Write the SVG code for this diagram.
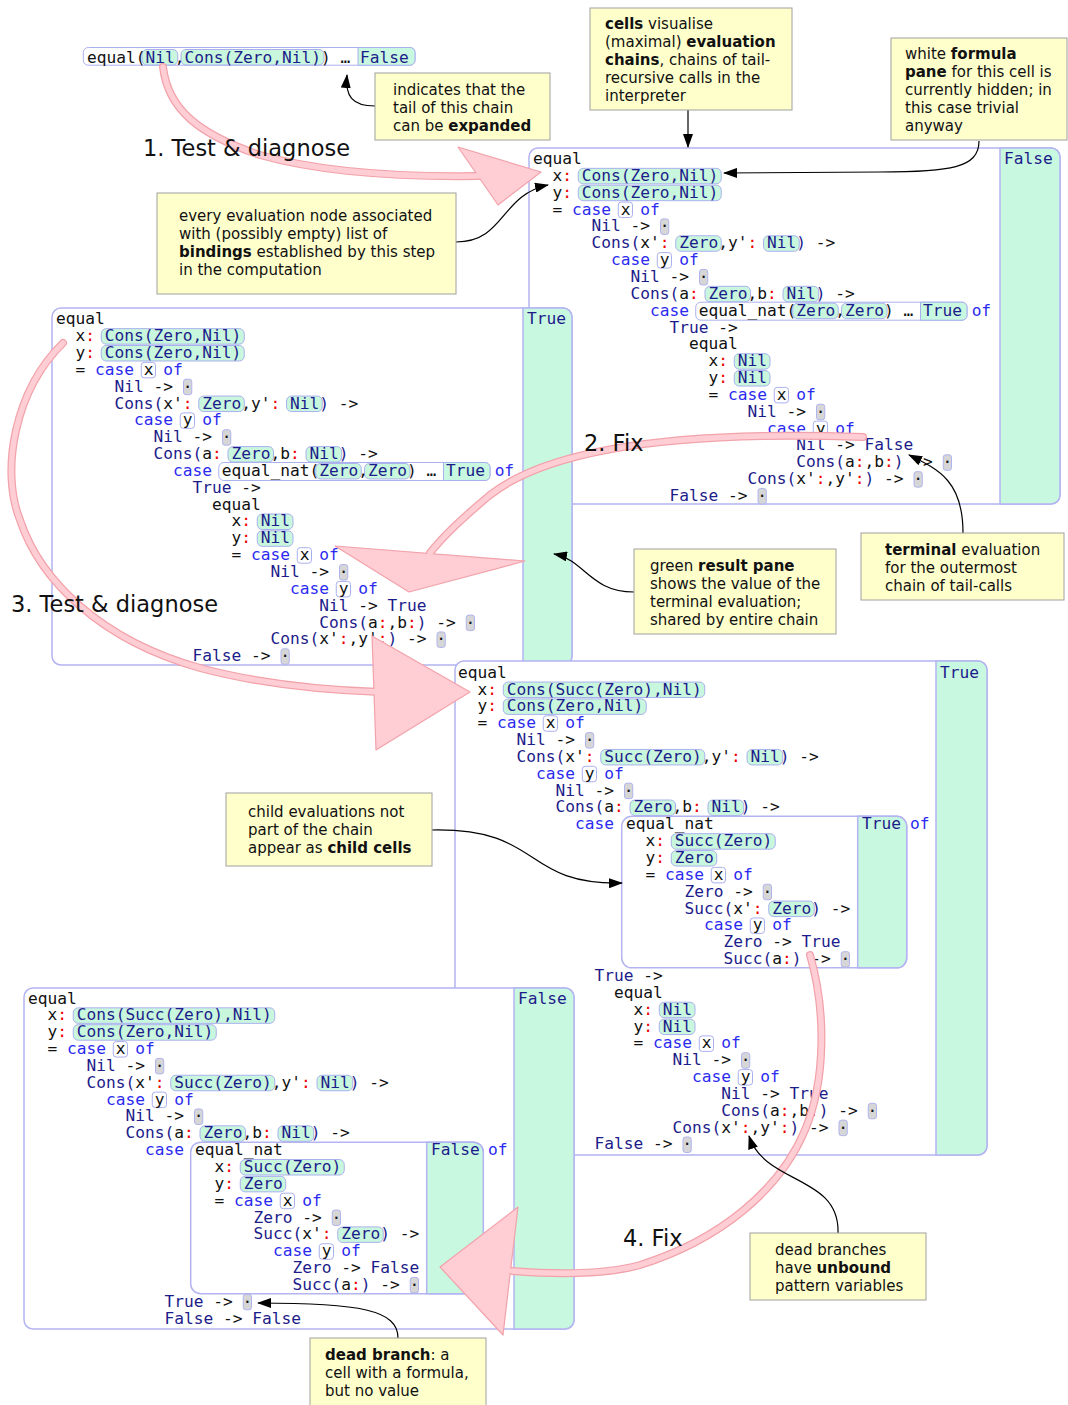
<svg xmlns="http://www.w3.org/2000/svg" width="1068" height="1405" viewBox="0 0 1068 1405">
<style>
.m{font-family:"DejaVu Sans Mono",monospace;font-size:16.2px;fill:#111;white-space:pre}
.k{fill:#2b2bf0}
.c{fill:#1c1c8a}
.r{fill:#ee0000}
.p{fill:#c8f7dd;stroke:#aab0ee;stroke-width:1}
.v{fill:#fff;stroke:#aab0ee;stroke-width:1}
.d{fill:#d6d6d6;stroke:#b0b4ee;stroke-width:1}
.fr{fill:#fff;stroke:#b4b4f2;stroke-width:1.5}
.pane{fill:#c8f8e0;stroke:#b4b4f2;stroke-width:1.5}
.pane1{fill:#c8f8e0;stroke:#aab0ee;stroke-width:1}
.note{fill:#ffffcc;stroke:#a0a0a0;stroke-width:1}
.nt{font-family:"DejaVu Sans",Verdana,sans-serif;font-size:15px;fill:#111;white-space:pre}
.b{font-weight:bold}
.big{font-family:"DejaVu Sans",Verdana,sans-serif;font-size:22.5px;fill:#111;white-space:pre}
.con{fill:none;stroke:#000;stroke-width:1.2;marker-end:url(#ah)}
.band1{fill:none;stroke:#f2a2aa;stroke-width:8;stroke-linecap:round}
.band2{fill:none;stroke:#ffcdd4;stroke-width:5.5;stroke-linecap:round}
.head{fill:#ffcdd4;stroke:#f2a2aa;stroke-width:1.2;stroke-linejoin:round}
</style>
<defs>
<marker id="ah" markerWidth="14" markerHeight="10" refX="13" refY="5" orient="auto" markerUnits="userSpaceOnUse" viewBox="0 0 14 10"><path d="M0,0 L14,5 L0,10 Z" fill="#000"/></marker>
</defs>

<!-- top-left collapsed cell -->
<g id="cell-collapsed-top">
<g transform="translate(87,62.5)">
<rect class="v" x="-3.7" y="-15" width="331.7" height="17.7" rx="5"/>
<path class="pane1" d="M271,-15 H323 A5,5 0 0 1 328,-10 V-2.3 A5,5 0 0 1 323,2.7 H271 Z"/>
<rect class="p" x="55" y="-13" width="35.75" height="15.5" rx="5"/>
<rect class="p" x="94" y="-13" width="143" height="15.5" rx="5"/>
<text class="m" x="0" y="0">equal(<tspan class="c">Nil</tspan>,<tspan class="c">Cons(Zero,Nil)</tspan>) … <tspan class="c">False</tspan></text>
</g>
</g>

<!-- cell A (top right) -->
<g id="cell-A">
<rect class="fr" x="529" y="148" width="531" height="356" rx="9"/>
<path class="pane" d="M1000,148 H1051 A9,9 0 0 1 1060,157 V495 A9,9 0 0 1 1051,504 H1000 Z"/>
<text class="m c" x="1004" y="164">False</text>
<g transform="translate(533,164)">
<rect class="p" x="45.25" y="4.35" width="143" height="15.5" rx="5"/>
<rect class="p" x="45.25" y="21.2" width="143" height="15.5" rx="5"/>
<rect class="v" x="85.25" y="38.05" width="14.25" height="15.5" rx="3"/>
<rect class="d" x="127.5" y="54.9" width="8.25" height="15.5" rx="2.5"/>
<rect class="p" x="142.75" y="71.75" width="45.5" height="15.5" rx="5"/>
<rect class="p" x="230.5" y="71.75" width="35.75" height="15.5" rx="5"/>
<rect class="v" x="124.25" y="88.6" width="14.25" height="15.5" rx="3"/>
<rect class="d" x="166.5" y="105.45" width="8.25" height="15.5" rx="2.5"/>
<rect class="p" x="172" y="122.3" width="45.5" height="15.5" rx="5"/>
<rect class="p" x="250" y="122.3" width="35.75" height="15.5" rx="5"/>
<rect class="v" x="162.75" y="138.2" width="271.25" height="18" rx="5"/>
<path class="pane1" d="M387.5,138.2 H429 A5,5 0 0 1 434,143.2 V151.2 A5,5 0 0 1 429,156.2 H387.5 Z"/>
<rect class="p" x="259.75" y="139.15" width="45.5" height="15.5" rx="5"/>
<rect class="p" x="308.5" y="139.15" width="45.5" height="15.5" rx="5"/>
<rect class="p" x="201.25" y="189.7" width="35.75" height="15.5" rx="5"/>
<rect class="p" x="201.25" y="206.55" width="35.75" height="15.5" rx="5"/>
<rect class="v" x="241.25" y="223.4" width="14.25" height="15.5" rx="3"/>
<rect class="d" x="283.5" y="240.25" width="8.25" height="15.5" rx="2.5"/>
<rect class="v" x="280.25" y="257.1" width="14.25" height="15.5" rx="3"/>
<rect class="d" x="410.25" y="290.8" width="8.25" height="15.5" rx="2.5"/>
<rect class="d" x="381" y="307.65" width="8.25" height="15.5" rx="2.5"/>
<rect class="d" x="225" y="324.5" width="8.25" height="15.5" rx="2.5"/>
<text class="m" x="0" y="0">equal</text>
<text class="m" x="19.5" y="16.85">x<tspan class="r">:</tspan> <tspan class="c">Cons(Zero,Nil)</tspan></text>
<text class="m" x="19.5" y="33.7">y<tspan class="r">:</tspan> <tspan class="c">Cons(Zero,Nil)</tspan></text>
<text class="m" x="19.5" y="50.55">= <tspan class="k">case</tspan> x <tspan class="k">of</tspan></text>
<text class="m" x="58.5" y="67.4"><tspan class="c">Nil</tspan> -&gt; ·</text>
<text class="m" x="58.5" y="84.25"><tspan class="c">Cons(</tspan>x'<tspan class="r">:</tspan> <tspan class="c">Zero</tspan>,y'<tspan class="r">:</tspan> <tspan class="c">Nil)</tspan> -&gt;</text>
<text class="m" x="78" y="101.1"><tspan class="k">case</tspan> y <tspan class="k">of</tspan></text>
<text class="m" x="97.5" y="117.95"><tspan class="c">Nil</tspan> -&gt; ·</text>
<text class="m" x="97.5" y="134.8"><tspan class="c">Cons(</tspan>a<tspan class="r">:</tspan> <tspan class="c">Zero</tspan>,b<tspan class="r">:</tspan> <tspan class="c">Nil)</tspan> -&gt;</text>
<text class="m" x="117" y="151.65"><tspan class="k">case</tspan> equal_nat(<tspan class="c">Zero</tspan>,<tspan class="c">Zero</tspan>) … <tspan class="c">True</tspan> <tspan class="k">of</tspan></text>
<text class="m" x="136.5" y="168.5"><tspan class="c">True</tspan> -&gt;</text>
<text class="m" x="156" y="185.35">equal</text>
<text class="m" x="175.5" y="202.2">x<tspan class="r">:</tspan> <tspan class="c">Nil</tspan></text>
<text class="m" x="175.5" y="219.05">y<tspan class="r">:</tspan> <tspan class="c">Nil</tspan></text>
<text class="m" x="175.5" y="235.9">= <tspan class="k">case</tspan> x <tspan class="k">of</tspan></text>
<text class="m" x="214.5" y="252.75"><tspan class="c">Nil</tspan> -&gt; ·</text>
<text class="m" x="234" y="269.6"><tspan class="k">case</tspan> y <tspan class="k">of</tspan></text>
<text class="m" x="263.25" y="286.45"><tspan class="c">Nil</tspan> -&gt; <tspan class="c">False</tspan></text>
<text class="m" x="263.25" y="303.3"><tspan class="c">Cons(</tspan>a<tspan class="r">:</tspan>,b<tspan class="r">:</tspan><tspan class="c">)</tspan> -&gt; ·</text>
<text class="m" x="214.5" y="320.15"><tspan class="c">Cons(</tspan>x'<tspan class="r">:</tspan>,y'<tspan class="r">:</tspan><tspan class="c">)</tspan> -&gt; ·</text>
<text class="m" x="136.5" y="337"><tspan class="c">False</tspan> -&gt; ·</text>
</g>
</g>

<!-- cell B (middle left) -->
<g id="cell-B">
<rect class="fr" x="52" y="308" width="520" height="357" rx="9"/>
<path class="pane" d="M523,308 H563 A9,9 0 0 1 572,317 V656 A9,9 0 0 1 563,665 H523 Z"/>
<text class="m c" x="527" y="324.3">True</text>
<g transform="translate(56,324.3)">
<rect class="p" x="45.25" y="4.35" width="143" height="15.5" rx="5"/>
<rect class="p" x="45.25" y="21.2" width="143" height="15.5" rx="5"/>
<rect class="v" x="85.25" y="38.05" width="14.25" height="15.5" rx="3"/>
<rect class="d" x="127.5" y="54.9" width="8.25" height="15.5" rx="2.5"/>
<rect class="p" x="142.75" y="71.75" width="45.5" height="15.5" rx="5"/>
<rect class="p" x="230.5" y="71.75" width="35.75" height="15.5" rx="5"/>
<rect class="v" x="124.25" y="88.6" width="14.25" height="15.5" rx="3"/>
<rect class="d" x="166.5" y="105.45" width="8.25" height="15.5" rx="2.5"/>
<rect class="p" x="172" y="122.3" width="45.5" height="15.5" rx="5"/>
<rect class="p" x="250" y="122.3" width="35.75" height="15.5" rx="5"/>
<rect class="v" x="162.75" y="138.2" width="271.25" height="18" rx="5"/>
<path class="pane1" d="M387.5,138.2 H429 A5,5 0 0 1 434,143.2 V151.2 A5,5 0 0 1 429,156.2 H387.5 Z"/>
<rect class="p" x="259.75" y="139.15" width="45.5" height="15.5" rx="5"/>
<rect class="p" x="308.5" y="139.15" width="45.5" height="15.5" rx="5"/>
<rect class="p" x="201.25" y="189.7" width="35.75" height="15.5" rx="5"/>
<rect class="p" x="201.25" y="206.55" width="35.75" height="15.5" rx="5"/>
<rect class="v" x="241.25" y="223.4" width="14.25" height="15.5" rx="3"/>
<rect class="d" x="283.5" y="240.25" width="8.25" height="15.5" rx="2.5"/>
<rect class="v" x="280.25" y="257.1" width="14.25" height="15.5" rx="3"/>
<rect class="d" x="410.25" y="290.8" width="8.25" height="15.5" rx="2.5"/>
<rect class="d" x="381" y="307.65" width="8.25" height="15.5" rx="2.5"/>
<rect class="d" x="225" y="324.5" width="8.25" height="15.5" rx="2.5"/>
<text class="m" x="0" y="0">equal</text>
<text class="m" x="19.5" y="16.85">x<tspan class="r">:</tspan> <tspan class="c">Cons(Zero,Nil)</tspan></text>
<text class="m" x="19.5" y="33.7">y<tspan class="r">:</tspan> <tspan class="c">Cons(Zero,Nil)</tspan></text>
<text class="m" x="19.5" y="50.55">= <tspan class="k">case</tspan> x <tspan class="k">of</tspan></text>
<text class="m" x="58.5" y="67.4"><tspan class="c">Nil</tspan> -&gt; ·</text>
<text class="m" x="58.5" y="84.25"><tspan class="c">Cons(</tspan>x'<tspan class="r">:</tspan> <tspan class="c">Zero</tspan>,y'<tspan class="r">:</tspan> <tspan class="c">Nil)</tspan> -&gt;</text>
<text class="m" x="78" y="101.1"><tspan class="k">case</tspan> y <tspan class="k">of</tspan></text>
<text class="m" x="97.5" y="117.95"><tspan class="c">Nil</tspan> -&gt; ·</text>
<text class="m" x="97.5" y="134.8"><tspan class="c">Cons(</tspan>a<tspan class="r">:</tspan> <tspan class="c">Zero</tspan>,b<tspan class="r">:</tspan> <tspan class="c">Nil)</tspan> -&gt;</text>
<text class="m" x="117" y="151.65"><tspan class="k">case</tspan> equal_nat(<tspan class="c">Zero</tspan>,<tspan class="c">Zero</tspan>) … <tspan class="c">True</tspan> <tspan class="k">of</tspan></text>
<text class="m" x="136.5" y="168.5"><tspan class="c">True</tspan> -&gt;</text>
<text class="m" x="156" y="185.35">equal</text>
<text class="m" x="175.5" y="202.2">x<tspan class="r">:</tspan> <tspan class="c">Nil</tspan></text>
<text class="m" x="175.5" y="219.05">y<tspan class="r">:</tspan> <tspan class="c">Nil</tspan></text>
<text class="m" x="175.5" y="235.9">= <tspan class="k">case</tspan> x <tspan class="k">of</tspan></text>
<text class="m" x="214.5" y="252.75"><tspan class="c">Nil</tspan> -&gt; ·</text>
<text class="m" x="234" y="269.6"><tspan class="k">case</tspan> y <tspan class="k">of</tspan></text>
<text class="m" x="263.25" y="286.45"><tspan class="c">Nil</tspan> -&gt; <tspan class="c">True</tspan></text>
<text class="m" x="263.25" y="303.3"><tspan class="c">Cons(</tspan>a<tspan class="r">:</tspan>,b<tspan class="r">:</tspan><tspan class="c">)</tspan> -&gt; ·</text>
<text class="m" x="214.5" y="320.15"><tspan class="c">Cons(</tspan>x'<tspan class="r">:</tspan>,y'<tspan class="r">:</tspan><tspan class="c">)</tspan> -&gt; ·</text>
<text class="m" x="136.5" y="337"><tspan class="c">False</tspan> -&gt; ·</text>
</g>
</g>

<!-- cell C (bottom middle) -->
<g id="cell-C">
<rect class="fr" x="455" y="661" width="532" height="494" rx="9"/>
<path class="pane" d="M936,661 H978 A9,9 0 0 1 987,670 V1146 A9,9 0 0 1 978,1155 H936 Z"/>
<text class="m c" x="940" y="677.7">True</text>
<g transform="translate(458,677.7)">
<rect class="p" x="45.25" y="4.35" width="201.5" height="15.5" rx="5"/>
<rect class="p" x="45.25" y="21.2" width="143" height="15.5" rx="5"/>
<rect class="v" x="85.25" y="38.05" width="14.25" height="15.5" rx="3"/>
<rect class="d" x="127.5" y="54.9" width="8.25" height="15.5" rx="2.5"/>
<rect class="p" x="142.75" y="71.75" width="104" height="15.5" rx="5"/>
<rect class="p" x="289" y="71.75" width="35.75" height="15.5" rx="5"/>
<rect class="v" x="124.25" y="88.6" width="14.25" height="15.5" rx="3"/>
<rect class="d" x="166.5" y="105.45" width="8.25" height="15.5" rx="2.5"/>
<rect class="p" x="172" y="122.3" width="45.5" height="15.5" rx="5"/>
<rect class="p" x="250" y="122.3" width="35.75" height="15.5" rx="5"/>
<rect class="p" x="201.25" y="324.5" width="35.75" height="15.5" rx="5"/>
<rect class="p" x="201.25" y="341.35" width="35.75" height="15.5" rx="5"/>
<rect class="v" x="241.25" y="358.2" width="14.25" height="15.5" rx="3"/>
<rect class="d" x="283.5" y="375.05" width="8.25" height="15.5" rx="2.5"/>
<rect class="v" x="280.25" y="391.9" width="14.25" height="15.5" rx="3"/>
<rect class="d" x="410.25" y="425.6" width="8.25" height="15.5" rx="2.5"/>
<rect class="d" x="381" y="442.45" width="8.25" height="15.5" rx="2.5"/>
<rect class="d" x="225" y="459.3" width="8.25" height="15.5" rx="2.5"/>
<text class="m" x="0" y="0">equal</text>
<text class="m" x="19.5" y="16.85">x<tspan class="r">:</tspan> <tspan class="c">Cons(Succ(Zero),Nil)</tspan></text>
<text class="m" x="19.5" y="33.7">y<tspan class="r">:</tspan> <tspan class="c">Cons(Zero,Nil)</tspan></text>
<text class="m" x="19.5" y="50.55">= <tspan class="k">case</tspan> x <tspan class="k">of</tspan></text>
<text class="m" x="58.5" y="67.4"><tspan class="c">Nil</tspan> -&gt; ·</text>
<text class="m" x="58.5" y="84.25"><tspan class="c">Cons(</tspan>x'<tspan class="r">:</tspan> <tspan class="c">Succ(Zero)</tspan>,y'<tspan class="r">:</tspan> <tspan class="c">Nil)</tspan> -&gt;</text>
<text class="m" x="78" y="101.1"><tspan class="k">case</tspan> y <tspan class="k">of</tspan></text>
<text class="m" x="97.5" y="117.95"><tspan class="c">Nil</tspan> -&gt; ·</text>
<text class="m" x="97.5" y="134.8"><tspan class="c">Cons(</tspan>a<tspan class="r">:</tspan> <tspan class="c">Zero</tspan>,b<tspan class="r">:</tspan> <tspan class="c">Nil)</tspan> -&gt;</text>
<text class="m k" x="117" y="151.65">case</text>
<text class="m k" x="452" y="151.65">of</text>
<text class="m" x="136.5" y="303.3"><tspan class="c">True</tspan> -&gt;</text>
<text class="m" x="156" y="320.15">equal</text>
<text class="m" x="175.5" y="337">x<tspan class="r">:</tspan> <tspan class="c">Nil</tspan></text>
<text class="m" x="175.5" y="353.85">y<tspan class="r">:</tspan> <tspan class="c">Nil</tspan></text>
<text class="m" x="175.5" y="370.7">= <tspan class="k">case</tspan> x <tspan class="k">of</tspan></text>
<text class="m" x="214.5" y="387.55"><tspan class="c">Nil</tspan> -&gt; ·</text>
<text class="m" x="234" y="404.4"><tspan class="k">case</tspan> y <tspan class="k">of</tspan></text>
<text class="m" x="263.25" y="421.25"><tspan class="c">Nil</tspan> -&gt; <tspan class="c">True</tspan></text>
<text class="m" x="263.25" y="438.1"><tspan class="c">Cons(</tspan>a<tspan class="r">:</tspan>,b<tspan class="r">:</tspan><tspan class="c">)</tspan> -&gt; ·</text>
<text class="m" x="214.5" y="454.95"><tspan class="c">Cons(</tspan>x'<tspan class="r">:</tspan>,y'<tspan class="r">:</tspan><tspan class="c">)</tspan> -&gt; ·</text>
<text class="m" x="136.5" y="471.8"><tspan class="c">False</tspan> -&gt; ·</text>
</g>
</g>
<g id="cell-C-child">
<g transform="translate(458,677.7)">
<rect class="fr" x="163.7" y="138.65" width="285" height="151.5" rx="10"/>
<path class="pane" d="M399.7,138.65 H438.7 A10,10 0 0 1 448.7,148.65 V280.15 A10,10 0 0 1 438.7,290.15 H399.7 Z"/>
<text class="m c" x="404" y="151.65">True</text>
<g transform="translate(168,151.65)">
<rect class="p" x="45.25" y="4.35" width="104" height="15.5" rx="5"/>
<rect class="p" x="45.25" y="21.2" width="45.5" height="15.5" rx="5"/>
<rect class="v" x="85.25" y="38.05" width="14.25" height="15.5" rx="3"/>
<rect class="d" x="137.25" y="54.9" width="8.25" height="15.5" rx="2.5"/>
<rect class="p" x="142.75" y="71.75" width="45.5" height="15.5" rx="5"/>
<rect class="v" x="124.25" y="88.6" width="14.25" height="15.5" rx="3"/>
<rect class="d" x="215.25" y="122.3" width="8.25" height="15.5" rx="2.5"/>
<text class="m" x="0" y="0">equal_nat</text>
<text class="m" x="19.5" y="16.85">x<tspan class="r">:</tspan> <tspan class="c">Succ(Zero)</tspan></text>
<text class="m" x="19.5" y="33.7">y<tspan class="r">:</tspan> <tspan class="c">Zero</tspan></text>
<text class="m" x="19.5" y="50.55">= <tspan class="k">case</tspan> x <tspan class="k">of</tspan></text>
<text class="m" x="58.5" y="67.4"><tspan class="c">Zero</tspan> -&gt; ·</text>
<text class="m" x="58.5" y="84.25"><tspan class="c">Succ(</tspan>x'<tspan class="r">:</tspan> <tspan class="c">Zero)</tspan> -&gt;</text>
<text class="m" x="78" y="101.1"><tspan class="k">case</tspan> y <tspan class="k">of</tspan></text>
<text class="m" x="97.5" y="117.95"><tspan class="c">Zero</tspan> -&gt; <tspan class="c">True</tspan></text>
<text class="m" x="97.5" y="134.8"><tspan class="c">Succ(</tspan>a<tspan class="r">:</tspan><tspan class="c">)</tspan> -&gt; ·</text>
</g>
</g>
</g>

<!-- cell D (bottom left) -->
<g id="cell-D">
<rect class="fr" x="24" y="988" width="550" height="341" rx="9"/>
<path class="pane" d="M514,988 H565 A9,9 0 0 1 574,997 V1320 A9,9 0 0 1 565,1329 H514 Z"/>
<text class="m c" x="518" y="1003.5">False</text>
<g transform="translate(28,1003.5)">
<rect class="p" x="45.25" y="4.35" width="201.5" height="15.5" rx="5"/>
<rect class="p" x="45.25" y="21.2" width="143" height="15.5" rx="5"/>
<rect class="v" x="85.25" y="38.05" width="14.25" height="15.5" rx="3"/>
<rect class="d" x="127.5" y="54.9" width="8.25" height="15.5" rx="2.5"/>
<rect class="p" x="142.75" y="71.75" width="104" height="15.5" rx="5"/>
<rect class="p" x="289" y="71.75" width="35.75" height="15.5" rx="5"/>
<rect class="v" x="124.25" y="88.6" width="14.25" height="15.5" rx="3"/>
<rect class="d" x="166.5" y="105.45" width="8.25" height="15.5" rx="2.5"/>
<rect class="p" x="172" y="122.3" width="45.5" height="15.5" rx="5"/>
<rect class="p" x="250" y="122.3" width="35.75" height="15.5" rx="5"/>
<rect class="d" x="215.25" y="290.8" width="8.25" height="15.5" rx="2.5"/>
<text class="m" x="0" y="0">equal</text>
<text class="m" x="19.5" y="16.85">x<tspan class="r">:</tspan> <tspan class="c">Cons(Succ(Zero),Nil)</tspan></text>
<text class="m" x="19.5" y="33.7">y<tspan class="r">:</tspan> <tspan class="c">Cons(Zero,Nil)</tspan></text>
<text class="m" x="19.5" y="50.55">= <tspan class="k">case</tspan> x <tspan class="k">of</tspan></text>
<text class="m" x="58.5" y="67.4"><tspan class="c">Nil</tspan> -&gt; ·</text>
<text class="m" x="58.5" y="84.25"><tspan class="c">Cons(</tspan>x'<tspan class="r">:</tspan> <tspan class="c">Succ(Zero)</tspan>,y'<tspan class="r">:</tspan> <tspan class="c">Nil)</tspan> -&gt;</text>
<text class="m" x="78" y="101.1"><tspan class="k">case</tspan> y <tspan class="k">of</tspan></text>
<text class="m" x="97.5" y="117.95"><tspan class="c">Nil</tspan> -&gt; ·</text>
<text class="m" x="97.5" y="134.8"><tspan class="c">Cons(</tspan>a<tspan class="r">:</tspan> <tspan class="c">Zero</tspan>,b<tspan class="r">:</tspan> <tspan class="c">Nil)</tspan> -&gt;</text>
<text class="m k" x="117" y="151.65">case</text>
<text class="m k" x="460" y="151.65">of</text>
<text class="m" x="136.5" y="303.3"><tspan class="c">True</tspan> -&gt; ·</text>
<text class="m" x="136.5" y="320.15"><tspan class="c">False</tspan> -&gt; <tspan class="c">False</tspan></text>
</g>
</g>
<g id="cell-D-child">
<g transform="translate(28,1003.5)">
<rect class="fr" x="162.7" y="138.65" width="292.6" height="151.5" rx="10"/>
<path class="pane" d="M398.7,138.65 H445.3 A10,10 0 0 1 455.3,148.65 V280.15 A10,10 0 0 1 445.3,290.15 H398.7 Z"/>
<text class="m c" x="403" y="151.65">False</text>
<g transform="translate(167,151.65)">
<rect class="p" x="45.25" y="4.35" width="104" height="15.5" rx="5"/>
<rect class="p" x="45.25" y="21.2" width="45.5" height="15.5" rx="5"/>
<rect class="v" x="85.25" y="38.05" width="14.25" height="15.5" rx="3"/>
<rect class="d" x="137.25" y="54.9" width="8.25" height="15.5" rx="2.5"/>
<rect class="p" x="142.75" y="71.75" width="45.5" height="15.5" rx="5"/>
<rect class="v" x="124.25" y="88.6" width="14.25" height="15.5" rx="3"/>
<rect class="d" x="215.25" y="122.3" width="8.25" height="15.5" rx="2.5"/>
<text class="m" x="0" y="0">equal_nat</text>
<text class="m" x="19.5" y="16.85">x<tspan class="r">:</tspan> <tspan class="c">Succ(Zero)</tspan></text>
<text class="m" x="19.5" y="33.7">y<tspan class="r">:</tspan> <tspan class="c">Zero</tspan></text>
<text class="m" x="19.5" y="50.55">= <tspan class="k">case</tspan> x <tspan class="k">of</tspan></text>
<text class="m" x="58.5" y="67.4"><tspan class="c">Zero</tspan> -&gt; ·</text>
<text class="m" x="58.5" y="84.25"><tspan class="c">Succ(</tspan>x'<tspan class="r">:</tspan> <tspan class="c">Zero)</tspan> -&gt;</text>
<text class="m" x="78" y="101.1"><tspan class="k">case</tspan> y <tspan class="k">of</tspan></text>
<text class="m" x="97.5" y="117.95"><tspan class="c">Zero</tspan> -&gt; <tspan class="c">False</tspan></text>
<text class="m" x="97.5" y="134.8"><tspan class="c">Succ(</tspan>a<tspan class="r">:</tspan><tspan class="c">)</tspan> -&gt; ·</text>
</g>
</g>
</g>

<!-- big workflow arrows -->
<g id="workflow-arrows">
<g id="arrow-1">
<path class="band1" d="M163,67 C168,110 200,135 260,155 C320,172 400,177 478,176"/>
<path class="head" d="M458,147 L541,172 L498,205 Z"/>
<path class="band2" d="M163,67 C168,110 200,135 260,155 C320,172 400,177 478,176"/>
</g>
<g id="arrow-2">
<path class="band1" d="M863,437 C720,432 560,440 490,495 C460,520 440,540 430,553"/>
<path class="head" d="M335,546 L525,561 L409,592 Z"/>
<path class="band2" d="M863,437 C720,432 560,440 490,495 C460,520 440,540 430,553"/>
</g>
<g id="arrow-3">
<path class="band1" d="M63,343 C15,390 0,470 20,520 C40,580 100,640 200,668 C260,684 320,690 380,692"/>
<path class="head" d="M372,636 L470,692 L376,750 Z"/>
<path class="band2" d="M63,343 C15,390 0,470 20,520 C40,580 100,640 200,668 C260,684 320,690 380,692"/>
</g>
<g id="arrow-4">
<path class="band1" d="M810,955 C826,1010 826,1080 805,1130 C780,1190 720,1240 640,1265 C600,1276 550,1274 512,1271"/>
<path class="head" d="M518,1207 L440,1267 L503,1335 Z"/>
<path class="band2" d="M810,955 C826,1010 826,1080 805,1130 C780,1190 720,1240 640,1265 C600,1276 550,1274 512,1271"/>
</g>
</g>

<g id="step-labels">
<text class="big" x="143" y="156">1. Test &amp; diagnose</text>
<text class="big" x="584" y="451">2. Fix</text>
<text class="big" x="11" y="612">3. Test &amp; diagnose</text>
<text class="big" x="623" y="1246">4. Fix</text>
</g>

<!-- connectors -->
<g id="connectors">
<path class="con" d="M688,110 V147"/>
<path class="con" d="M979,141 C979,168 950,172 880,172 L724,173"/>
<path class="con" d="M375,106 C352,106 345,96 347,75"/>
<path class="con" d="M456,242 C505,242 500,195 548,185"/>
<path class="con" d="M634,592 C590,592 585,560 554,554"/>
<path class="con" d="M963,533 C963,482 940,470 909,455"/>
<path class="con" d="M432,830 C545,828 520,885 622,883"/>
<path class="con" d="M838,1233 C840,1175 765,1185 749,1136"/>
<path class="con" d="M398,1338 C398,1310 360,1303 258,1303"/>
</g>

<!-- notes -->
<g id="note-cells">
<rect class="note" x="590" y="8" width="202" height="102"/>
<text class="nt" x="605" y="29"><tspan class="b">cells</tspan> visualise</text>
<text class="nt" x="605" y="47">(maximal) <tspan class="b">evaluation</tspan></text>
<text class="nt" x="605" y="65"><tspan class="b">chains</tspan>, chains of tail-</text>
<text class="nt" x="605" y="83">recursive calls in the</text>
<text class="nt" x="605" y="101">interpreter</text>
</g>
<g id="note-formula">
<rect class="note" x="891" y="38" width="176" height="102"/>
<text class="nt" x="905" y="59">white <tspan class="b">formula</tspan></text>
<text class="nt" x="905" y="77"><tspan class="b">pane</tspan> for this cell is</text>
<text class="nt" x="905" y="95">currently hidden; in</text>
<text class="nt" x="905" y="113">this case trivial</text>
<text class="nt" x="905" y="131">anyway</text>
</g>
<g id="note-expand">
<rect class="note" x="375" y="73" width="175" height="67"/>
<text class="nt" x="393" y="95">indicates that the</text>
<text class="nt" x="393" y="113">tail of this chain</text>
<text class="nt" x="393" y="131">can be <tspan class="b">expanded</tspan></text>
</g>
<g id="note-bindings">
<rect class="note" x="157" y="193" width="299" height="101"/>
<text class="nt" x="179" y="221">every evaluation node associated</text>
<text class="nt" x="179" y="239">with (possibly empty) list of</text>
<text class="nt" x="179" y="257"><tspan class="b">bindings</tspan> established by this step</text>
<text class="nt" x="179" y="275">in the computation</text>
</g>
<g id="note-result">
<rect class="note" x="634" y="549" width="202" height="85"/>
<text class="nt" x="650" y="571">green <tspan class="b">result pane</tspan></text>
<text class="nt" x="650" y="589">shows the value of the</text>
<text class="nt" x="650" y="607">terminal evaluation;</text>
<text class="nt" x="650" y="625">shared by entire chain</text>
</g>
<g id="note-terminal">
<rect class="note" x="861" y="533" width="203" height="67"/>
<text class="nt" x="885" y="555"><tspan class="b">terminal</tspan> evaluation</text>
<text class="nt" x="885" y="573">for the outermost</text>
<text class="nt" x="885" y="591">chain of tail-calls</text>
</g>
<g id="note-child">
<rect class="note" x="226" y="793" width="206" height="73"/>
<text class="nt" x="248" y="817">child evaluations not</text>
<text class="nt" x="248" y="835">part of the chain</text>
<text class="nt" x="248" y="853">appear as <tspan class="b">child cells</tspan></text>
</g>
<g id="note-unbound">
<rect class="note" x="750" y="1233" width="176" height="67"/>
<text class="nt" x="775" y="1255">dead branches</text>
<text class="nt" x="775" y="1273">have <tspan class="b">unbound</tspan></text>
<text class="nt" x="775" y="1291">pattern variables</text>
</g>
<g id="note-dead">
<rect class="note" x="310" y="1338" width="176" height="72"/>
<text class="nt" x="325" y="1360"><tspan class="b">dead branch</tspan>: a</text>
<text class="nt" x="325" y="1378">cell with a formula,</text>
<text class="nt" x="325" y="1396">but no value</text>
</g>
</svg>
